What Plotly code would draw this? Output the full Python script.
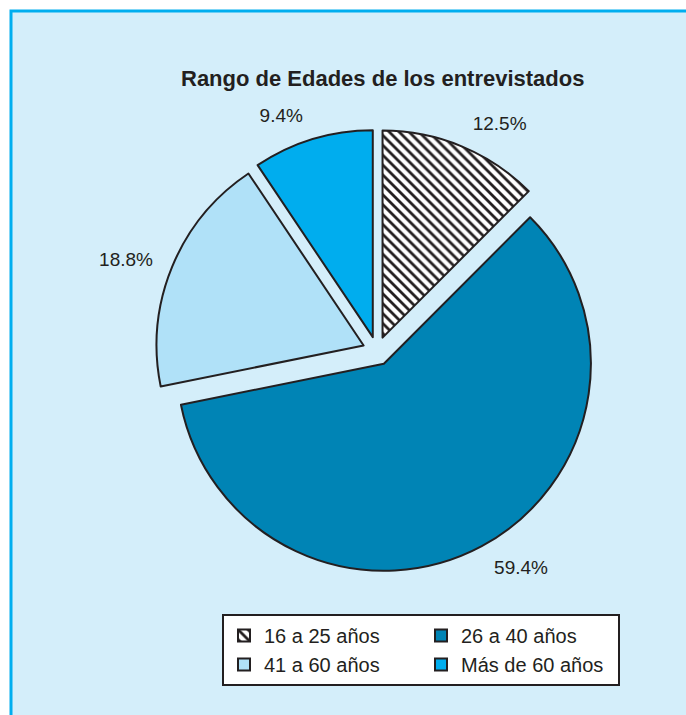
import plotly.graph_objects as go

categories = ["16 a 25 años", "26 a 40 años", "41 a 60 años", "Más de 60 años"]
values = [12.5, 59.4, 18.8, 9.4]
slice_colors = ["#ffffff", "#0084b5", "#b0e1f8", "#00adee"]
patterns = ["\\", "", "", ""]
title_text = "Rango de Edades de los entrevistados"

W, H = 686, 715
ink = "#231f20"
FONT = "Liberation Sans, Arial, sans-serif"

# plot area (pixels)
ML, MR = 138, 70
PW = W - ML - MR


def px(x):
    return (x - ML) / PW


def py(y):
    return 1 - y / H


PULL = [0.07] * len(values)

fig = go.Figure()
# the pie itself
fig.add_trace(go.Pie(
    labels=categories,
    values=values,
    sort=False,
    direction="clockwise",
    rotation=0,
    pull=PULL,
    marker=dict(
        colors=slice_colors,
        line=dict(color=ink, width=2),
        pattern=dict(shape=patterns, fgcolor=ink, bgcolor="#ffffff",
                     size=7, solidity=0.4),
    ),
    textinfo="none",
    domain=dict(x=[px(155.5), px(598.5)], y=[py(572.5), py(129.5)]),
    hoverinfo="label+value",
))
# transparent, slightly larger copy that carries the outside value labels
fig.add_trace(go.Pie(
    labels=categories,
    values=values,
    sort=False,
    direction="clockwise",
    rotation=0,
    pull=PULL,
    marker=dict(colors=["rgba(0,0,0,0)"] * len(values),
                line=dict(width=0)),
    texttemplate="%{value}%",
    textposition="outside",
    textfont=dict(family=FONT, size=19, color=ink),
    domain=dict(x=[px(140.5), px(613.5)], y=[py(587.5), py(114.5)]),
    showlegend=False,
    hoverinfo="skip",
))

fig.update_layout(
    width=W, height=H,
    margin=dict(l=ML, r=MR, t=0, b=0, pad=0),
    paper_bgcolor="#ffffff",
    plot_bgcolor="rgba(0,0,0,0)",
    shapes=[dict(
        type="rect", xref="paper", yref="paper",
        x0=px(11), x1=px(W + 20), y0=py(H + 20), y1=py(11),
        fillcolor="#d4eefa", line=dict(color="#00aeef", width=3),
        layer="below",
    )],
    annotations=[dict(
        text="<b>" + title_text + "</b>",
        xref="paper", yref="paper", x=px(382), y=py(78),
        xanchor="center", yanchor="middle", showarrow=False,
        font=dict(family=FONT, size=22, color=ink),
    )],
    showlegend=True,
    legend=dict(
        orientation="h",
        x=px(222), xanchor="left",
        y=py(614), yanchor="top",
        bgcolor="#ffffff", bordercolor=ink, borderwidth=2,
        font=dict(family=FONT, size=20, color=ink),
        entrywidth=152, entrywidthmode="pixels",
        traceorder="normal",
    ),
)

fig.write_html(
    "out.html",
    config={"displayModeBar": False},
    post_script="document.body.style.margin='0px';document.body.style.overflow='hidden';",
)
